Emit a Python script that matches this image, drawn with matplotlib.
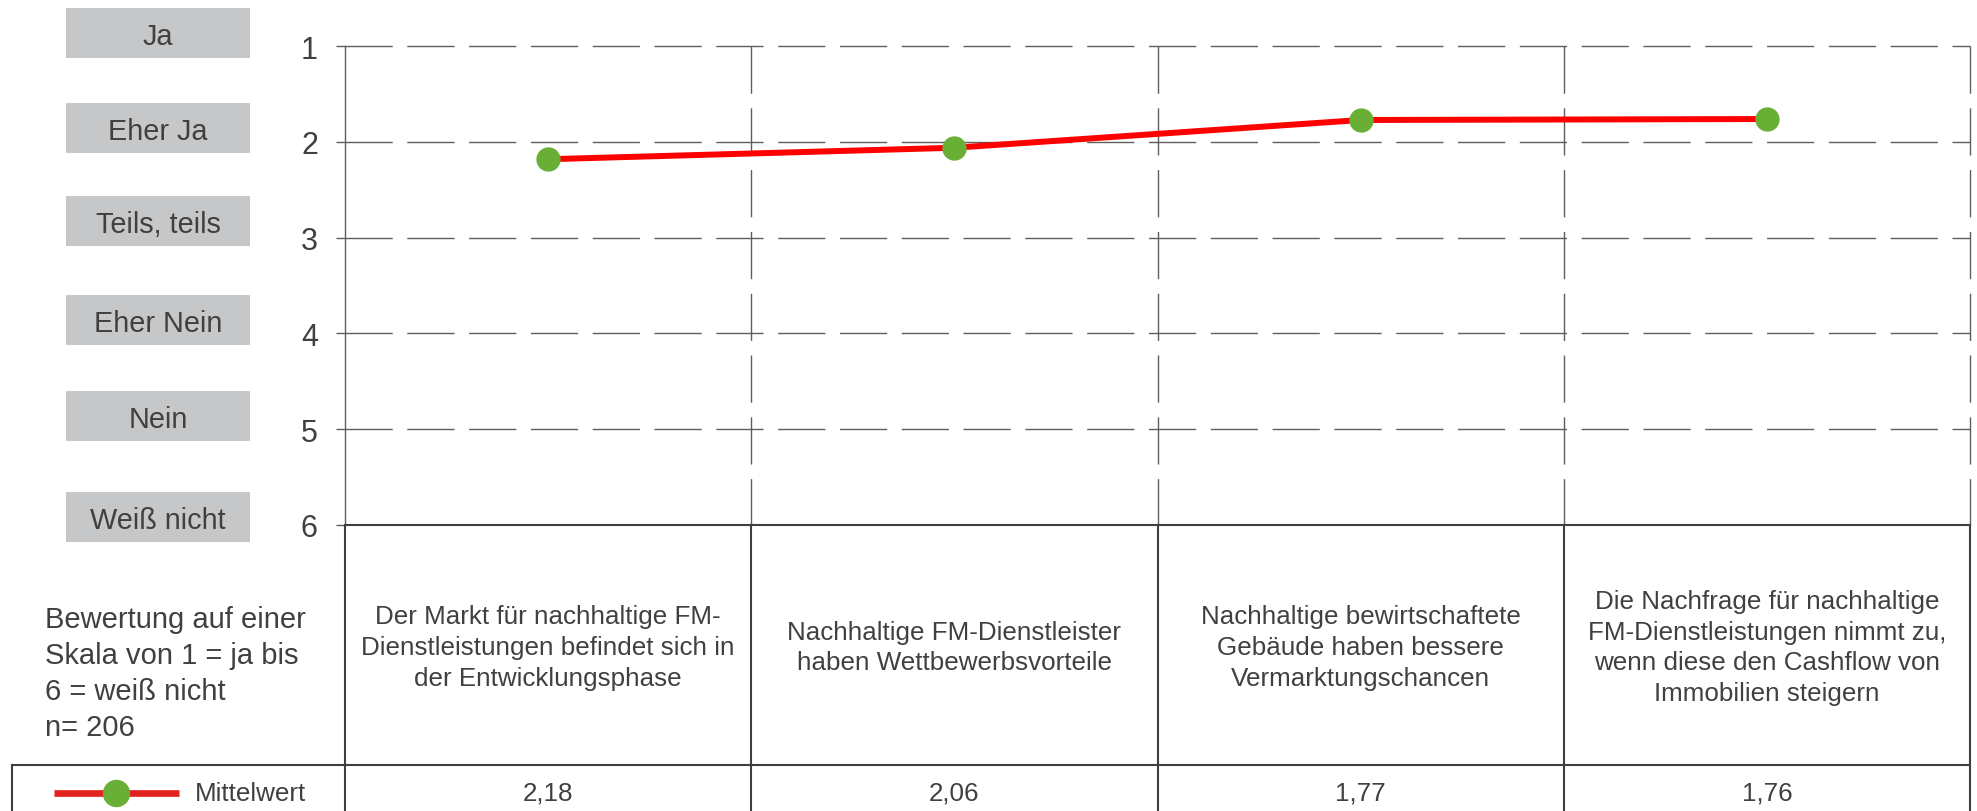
import matplotlib
matplotlib.use("Agg")
import matplotlib.pyplot as plt
from matplotlib.patches import Rectangle

plt.rcParams['font.family'] = ['Liberation Sans', 'DejaVu Sans']
plt.rcParams['lines.scale_dashes'] = False

# --- data ---
statements = [
    "Der Markt für nachhaltige FM-\nDienstleistungen befindet sich in\nder Entwicklungsphase",
    "Nachhaltige FM-Dienstleister\nhaben Wettbewerbsvorteile",
    "Nachhaltige bewirtschaftete\nGebäude haben bessere\nVermarktungschancen",
    "Die Nachfrage für nachhaltige\nFM-Dienstleistungen nimmt zu,\nwenn diese den Cashflow von\nImmobilien steigern",
]
mittelwert = [2.18, 2.06, 1.77, 1.76]
scale_ticks = [1, 2, 3, 4, 5, 6]
scale_labels = ["Ja", "Eher Ja", "Teils, teils", "Eher Nein", "Nein", "Weiß nicht"]
note = "Bewertung auf einer\nSkala von 1 = ja bis\n6 = weiß nicht\nn= 206"
series_name = "Mittelwert"

TXT = '#404040'
GRID = '#5e5e5e'
TABLE = '#3f3f3f'
RED = '#ff0000'
GREEN = '#6aaf35'
BOX = '#c6c7c9'

W, H = 1977, 812
fig = plt.figure(figsize=(W / 100, H / 100), dpi=100)

# overlay in pixel coordinates, y pointing down
ov = fig.add_axes([0, 0, 1, 1])
ov.set_xlim(0, W)
ov.set_ylim(H, 0)
ov.axis('off')
ov.set_zorder(2)

ax_top, ax_bot = 47.3, 525.8
ax = fig.add_axes([345 / W, 1 - ax_bot / H, 1625 / W, (ax_bot - ax_top) / H])
n = len(statements)
xs = [i + 0.5 for i in range(n)]
ax.set_xlim(0, n)
ax.set_ylim(6, 1)

# dashed grid
for b in range(1, n + 1):
    ax.plot([b, b], [1, 6], color=GRID, lw=1.0, dashes=(34, 10.5), clip_on=False, zorder=1)
for t in scale_ticks[:-1]:
    ax.plot([0, n], [t, t], color=GRID, lw=1.0, dashes=(34, 10.5), clip_on=False, zorder=1)

ax.plot(xs, mittelwert, color=RED, lw=4.3, marker='o', ms=16.5,
        mfc=GREEN, mec=GREEN, solid_capstyle='butt', zorder=3, clip_on=False)

for s in ['top', 'right', 'bottom']:
    ax.spines[s].set_visible(False)
ax.spines['left'].set_color(GRID)
ax.spines['left'].set_linewidth(1.0)
ax.set_xticks([])
ax.set_yticks(scale_ticks)
ax.tick_params(axis='y', length=6.5, width=1, color=GRID, pad=13,
               labelsize=22, labelcolor=TXT)

# grey answer boxes
box_centers = [34, 129, 222, 321, 417, 518]
for lab, cy in zip(scale_labels, box_centers):
    ov.add_patch(Rectangle((66, cy - 25), 184, 50, fc=BOX, ec='none'))
    ov.text(158, cy + 3, lab, ha='center', va='center', fontsize=20.8, color=TXT)

# table under the chart
fig.canvas.draw()
bx = [ax.transData.transform((b, 1))[0] for b in range(n + 1)]
row_mid = 766
kw = dict(color=TABLE, lw=1.5, solid_capstyle='projecting')
ov.plot([bx[0], bx[-1]], [ax_bot, ax_bot], **kw)
ov.plot([12, bx[-1]], [row_mid, row_mid], **kw)
for x in bx:
    ov.plot([x, x], [ax_bot, H + 20], **kw)
ov.plot([12, 12], [row_mid, H + 20], **kw)

for i, (txt, val) in enumerate(zip(statements, mittelwert)):
    xc = (bx[i] + bx[i + 1]) / 2
    ov.text(xc, 648, txt, ha='center', va='center', multialignment='center',
            fontsize=18.7, color=TXT, linespacing=1.36)
    ov.text(xc, 794, f"{val:.2f}".replace('.', ','), ha='center', va='center',
            fontsize=18.7, color=TXT)

ov.text(45, 674, note, ha='left', va='center', fontsize=21, color=TXT, linespacing=1.36)

# legend key
ov.plot([54, 179], [794, 794], color='#e3211e', lw=4.8, solid_capstyle='butt')
ov.plot([116], [794], 'o', ms=18.7, color=GREEN)
ov.text(195, 794, series_name, ha='left', va='center', fontsize=18.7, color=TXT)

fig.savefig('out.png', dpi=100)
